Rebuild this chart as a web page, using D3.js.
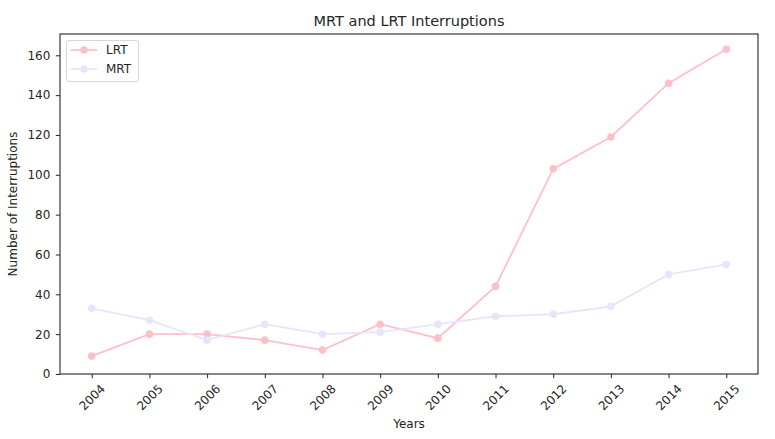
<!DOCTYPE html>
<html lang="en">
<head>
	<meta charset="utf-8" />
	<title>MRT and LRT Interruptions</title>
	<script src="https://d3js.org/d3.v7.min.js"></script>
	<style type="text/css">
		body { margin:0; padding:0; background:#fff; }
		svg text { font-family: "DejaVu Sans", sans-serif; fill:#262626; }
	</style>
</head>
<body>
	<div id="chart"></div>
	<script type="text/javascript">

		// data
		var years = [2004, 2005, 2006, 2007, 2008, 2009, 2010, 2011, 2012, 2013, 2014, 2015];
		var lrt = [9, 20, 20, 17, 12, 25, 18, 44, 103, 119, 146, 163];
		var mrt = [33, 27, 17, 25, 20, 21, 25, 29, 30, 34, 50, 55];
		var yTicks = [0, 20, 40, 60, 80, 100, 120, 140, 160];
		var seriesNames = ["LRT", "MRT"];
		var seriesColors = ["#ffc0cb", "#e6e6fa"];

		var W = 775, H = 439;
		// plot box (note: "top" is taken by window.top)
		var pLeft = 60, pRight = 758, pTop = 34, pBottom = 374;

		var svg = d3.select("#chart").append("svg")
			.attr("width", W).attr("height", H);

		var x = d3.scaleLinear().domain([2003.45, 2015.55]).range([pLeft, pRight]);
		var y = d3.scaleLinear().domain([0, 170.7]).range([pBottom, pTop]);

		// title
		svg.append("text")
			.attr("x", (pLeft + pRight) / 2).attr("y", 26)
			.attr("text-anchor", "middle")
			.style("font-size", "14.5px")
			.text("MRT and LRT Interruptions");

		// y axis
		var yAxis = svg.append("g")
			.attr("transform", "translate(" + pLeft + ",0)")
			.call(d3.axisLeft(y).tickValues(yTicks).tickSize(4.2).tickPadding(5.5));
		yAxis.selectAll("text").style("font-size", "12px").attr("fill", "#262626");

		// x axis
		var xAxis = svg.append("g")
			.attr("transform", "translate(0," + pBottom + ")")
			.call(d3.axisBottom(x).tickValues(years).tickFormat(d3.format("d")).tickSize(4.2));
		xAxis.selectAll("text")
			.style("font-size", "12px")
			.attr("fill", "#262626")
			.attr("text-anchor", "middle")
			.attr("dy", null)
			.attr("y", null)
			.attr("dominant-baseline", "central")
			.attr("transform", "translate(0,23.5) rotate(-45)");

		svg.selectAll(".domain").remove();
		svg.selectAll(".tick line").attr("stroke", "#262626").attr("stroke-width", 1);

		// frame
		svg.append("rect")
			.attr("x", pLeft).attr("y", pTop)
			.attr("width", pRight - pLeft).attr("height", pBottom - pTop)
			.attr("fill", "none").attr("stroke", "#262626").attr("stroke-width", 1.1);

		// axis labels
		svg.append("text")
			.attr("x", (pLeft + pRight) / 2).attr("y", 428)
			.attr("text-anchor", "middle")
			.style("font-size", "12px")
			.text("Years");
		svg.append("text")
			.attr("transform", "translate(17," + ((pTop + pBottom) / 2) + ") rotate(-90)")
			.attr("text-anchor", "middle")
			.style("font-size", "12px")
			.text("Number of Interruptions");

		// series
		var series = [lrt, mrt];
		var line = d3.line()
			.x(function(d, i) { return x(years[i]); })
			.y(function(d) { return y(d); });

		series.forEach(function(vals, k) {
			svg.append("path")
				.datum(vals)
				.attr("d", line)
				.attr("fill", "none")
				.attr("stroke", seriesColors[k])
				.attr("stroke-width", 1.8);
			svg.selectAll(".pt" + k)
				.data(vals)
				.enter().append("circle")
				.attr("class", "pt" + k)
				.attr("cx", function(d, i) { return x(years[i]); })
				.attr("cy", function(d) { return y(d); })
				.attr("r", 3.8)
				.attr("fill", seriesColors[k]);
		});

		// legend
		var lg = svg.append("g");
		lg.append("rect")
			.attr("x", 66.5).attr("y", 40.5)
			.attr("width", 72).attr("height", 41)
			.attr("rx", 2.5)
			.attr("fill", "#fff").attr("fill-opacity", 0.8)
			.attr("stroke", "#d8d8d8");
		seriesNames.forEach(function(name, k) {
			var ly = 50 + k * 19;
			lg.append("line")
				.attr("x1", 71).attr("x2", 97)
				.attr("y1", ly).attr("y2", ly)
				.attr("stroke", seriesColors[k]).attr("stroke-width", 1.8);
			lg.append("circle")
				.attr("cx", 84).attr("cy", ly).attr("r", 3.8)
				.attr("fill", seriesColors[k]);
			lg.append("text")
				.attr("x", 106).attr("y", ly)
				.attr("dominant-baseline", "central")
				.style("font-size", "12px")
				.text(name);
		});
	</script>
</body>
</html>
